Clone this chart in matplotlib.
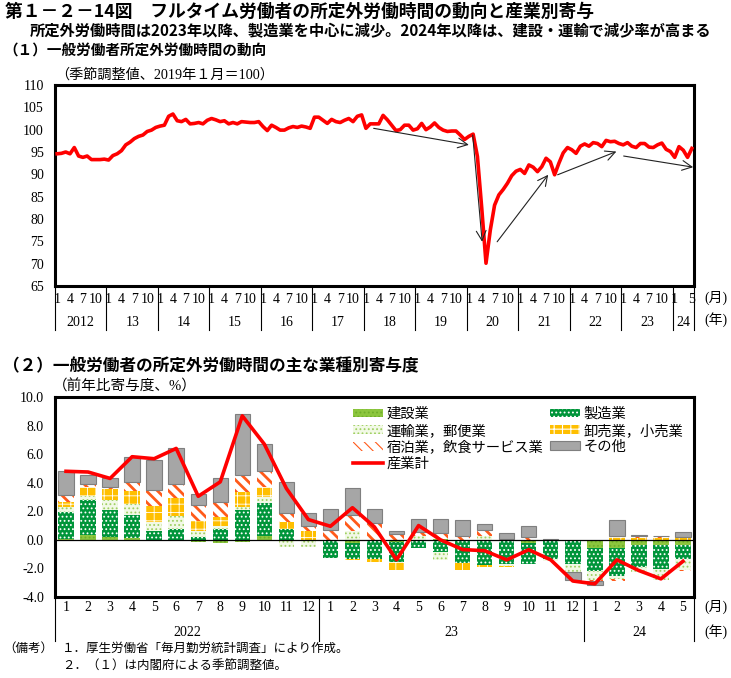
import matplotlib
matplotlib.use("Agg")
import matplotlib.pyplot as plt

plt.rcParams["font.family"] = ["Liberation Serif", "Noto Sans CJK JP"]
plt.rcParams["axes.unicode_minus"] = False
plt.rcParams["hatch.linewidth"] = 0.8

GOTHIC = ["Noto Sans CJK JP", "DejaVu Sans"]

# (1) general workers, non-scheduled hours index (seasonally adjusted, 2019/1 = 100)
idx_2012 = [94.6, 94.7, 95.0, 94.6, 96.0, 94.1, 93.8, 94.1, 93.3, 93.3, 93.3, 93.4]
idx_2013 = [93.2, 94.2, 94.6, 95.3, 96.6, 97.2, 98.0, 98.5, 98.8, 99.6, 99.9, 100.5]
idx_2014 = [100.8, 101.0, 103.0, 103.5, 102.0, 101.8, 102.3, 101.3, 101.4, 101.6, 101.3, 102.1]
idx_2015 = [102.5, 102.2, 101.8, 102.0, 101.3, 101.6, 101.3, 101.8, 101.7, 101.6, 101.6, 101.8]
idx_2016 = [100.7, 99.8, 101.0, 100.5, 99.9, 99.9, 100.4, 100.7, 100.5, 100.8, 100.6, 100.3]
idx_2017 = [102.8, 102.8, 102.1, 101.4, 102.3, 101.8, 101.6, 102.1, 102.5, 101.8, 103.0, 103.3]
idx_2018 = [100.3, 101.3, 101.3, 101.3, 103.2, 102.2, 101.0, 99.8, 100.0, 101.0, 101.0, 99.9]
idx_2019 = [100.2, 101.4, 100.0, 100.6, 101.5, 100.5, 99.9, 99.6, 99.7, 99.7, 98.8, 97.8]
idx_2020 = [98.5, 99.0, 94.0, 82.5, 70.1, 77.5, 83.1, 85.4, 86.6, 88.0, 89.7, 90.7]
idx_2021 = [91.1, 90.2, 92.1, 91.6, 90.6, 91.7, 93.6, 92.8, 89.9, 92.5, 94.8, 96.0]
idx_2022 = [95.5, 94.7, 96.3, 96.8, 96.3, 97.1, 96.9, 96.2, 97.6, 97.3, 97.4, 96.9]
idx_2023 = [96.6, 97.1, 96.3, 96.0, 96.9, 96.9, 96.1, 96.0, 96.6, 97.0, 95.6, 95.1]
idx_2024 = [93.8, 96.2, 95.4, 93.8, 95.8]
overtime_index = (idx_2012 + idx_2013 + idx_2014 + idx_2015 + idx_2016 + idx_2017 + idx_2018
                  + idx_2019 + idx_2020 + idx_2021 + idx_2022 + idx_2023 + idx_2024)

top_years = ["2012", "13", "14", "15", "16", "17", "18", "19", "20", "21", "22", "23", "24"]
top_month_ticks = [1, 4, 7, 10]
last_year_ticks = [1, 5]

# trend arrows: (start month index, start value, end month index, end value)
trend_arrows = [
    (73.8, 100.3, 96.0, 96.6),
    (96.9, 98.8, 99.1, 74.9),
    (102.6, 74.9, 114.5, 89.9),
    (116.7, 89.9, 130.4, 95.1),
    (132.1, 94.1, 148.3, 91.6),
]

# (2) contributions by industry, 2022/1 - 2024/5 (% points)
bottom_years = ["2022", "23", "24"]
bottom_months = list(range(1, 13)) + list(range(1, 13)) + list(range(1, 6))
construction = [0.05, 0.35, 0.19, 0.10, -0.05, 0.02, -0.16, -0.25, -0.12, 0.30, 0.0, 0.0,
                -0.05, -0.20, -0.05, -0.15, 0.0, 0.08, -0.05, 0.0, 0.0, -0.20, 0.0, 0.0,
                -0.55, -0.55, -0.38, -0.38, -0.38]
manufacturing = [1.92, 2.46, 1.92, 1.62, 0.61, 0.77, 0.23, 0.77, 2.11, 2.30, 0.75, 0.02,
                 -1.22, -1.17, -1.26, -1.40, -0.55, -0.86, -1.60, -1.75, -1.68, -1.48, -1.33, -1.68,
                 -1.66, -2.00, -1.52, -1.64, -0.94]
transport = [0.30, 0.23, 0.70, 0.82, 0.63, 0.87, 0.42, 0.23, 0.19, 0.40, -0.47, -0.47,
             0.0, 0.59, 0.0, 0.0, 0.25, -0.58, 0.0, 0.29, -0.12, 0.0, -0.14, -0.59,
             -0.63, -0.16, -0.35, -0.82, -0.82]
retail = [0.40, 0.66, 0.73, 0.89, 1.10, 1.24, 0.70, 0.59, 1.05, 0.70, 0.49, 0.59,
          0.0, -0.05, -0.23, -0.55, 0.0, 0.0, -0.47, -0.16, -0.10, 0.0, 0.0, 0.0,
          0.0, 0.24, 0.15, 0.15, 0.20]
hospitality = [0.50, 0.19, 0.14, 0.63, 1.12, 0.98, 1.10, 1.05, 1.22, 1.10, 0.63, 0.37,
               0.70, 1.12, 1.17, 0.43, 0.30, 0.40, 0.25, 0.38, 0.05, 0.20, 0.0, 0.0,
               -0.05, -0.16, 0.10, 0.10, -0.07]
others = [1.64, 0.68, 0.66, 1.76, 2.15, 2.53, 0.77, 1.69, 4.22, 1.94, 2.18, 0.91,
          1.48, 1.94, 1.00, 0.17, 0.94, 1.00, 1.17, 0.47, 0.45, 0.80, 0.07, -0.54,
          -0.28, 1.17, 0.07, 0.05, 0.35]
all_industries = [4.80, 4.75, 4.30, 5.82, 5.68, 6.40, 3.05, 4.06, 8.68, 6.70, 3.60, 1.42,
                  0.95, 2.25, 0.90, -1.40, 1.00, 0.00, -0.68, -0.76, -1.40, -0.69, -1.40, -2.88,
                  -3.08, -1.40, -2.15, -2.73, -1.50]

fig = plt.figure(figsize=(7.31, 6.78), dpi=100)


def fy(py):
    return 1 - py / 678


def fx(px):
    return px / 731


# headings
fig.text(fx(5), fy(12), "第１－２－14図　フルタイム労働者の所定外労働時間の動向と産業別寄与",
         family=GOTHIC, fontsize=12.8, fontweight="bold", va="center")
fig.text(fx(30), fy(31), "所定外労働時間は2023年以降、製造業を中心に減少。2024年以降は、建設・運輸で減少率が高まる",
         family=GOTHIC, fontsize=11, fontweight="bold", va="center")
fig.text(fx(3), fy(51), "（１）一般労働者所定外労働時間の動向",
         family=GOTHIC, fontsize=10.5, fontweight="bold", va="center")
fig.text(fx(55), fy(75), "（季節調整値、2019年１月＝100）", fontsize=10.2, va="center")
fig.text(fx(3), fy(366), "（２）一般労働者の所定外労働時間の主な業種別寄与度",
         family=GOTHIC, fontsize=12, fontweight="bold", va="center")
fig.text(fx(53), fy(386), "（前年比寄与度、%）", fontsize=10.5, va="center")
fig.text(fx(3), fy(649), "（備考）", fontsize=9, va="center")
fig.text(fx(62), fy(649), "１．厚生労働省「毎月勤労統計調査」により作成。", fontsize=9, va="center")
fig.text(fx(62), fy(667), "２．（１）は内閣府による季節調整値。", fontsize=9, va="center")

# ---- (1) line chart
ax1 = fig.add_axes([fx(55), fy(286), 639 / 731, 201 / 678])
n1 = len(overtime_index)
ax1.plot(range(n1), overtime_index, color="#ff0000", lw=2.6, zorder=3)
for x0, y0, x1, y1 in trend_arrows:
    ax1.annotate("", xy=(x1, y1), xytext=(x0, y0),
                 arrowprops=dict(arrowstyle="->,head_length=0.7,head_width=0.35",
                                 color="#222222", lw=0.8, shrinkA=0, shrinkB=0), zorder=4)

tick_pos, tick_lab = [], []
for k, yr in enumerate(top_years):
    months = last_year_ticks if yr == top_years[-1] else top_month_ticks
    for m in months:
        tick_pos.append(12 * k + m - 1)
        tick_lab.append(str(m))
ax1.set_xticks(tick_pos, tick_lab)
ax1.set_yticks(range(65, 111, 5))
ax1.tick_params(axis="x", length=0, pad=5, labelsize=10)
ax1.tick_params(axis="y", length=0, pad=8, labelsize=10)
for s in ax1.spines.values():
    s.set_linewidth(2.2)

xt = ax1.get_xaxis_transform()
seps = [12 * k - 0.5 for k in range(len(top_years))] + [n1 - 0.5]
for xs in seps:
    ax1.plot([xs, xs], [0, -0.22], transform=xt, color="black", lw=0.8, clip_on=False)
for k, yr in enumerate(top_years):
    if yr == top_years[-1]:
        c = 12 * k + (n1 - 12 * k - 1) / 2
    else:
        c = 12 * k + 5.5
    ax1.text(c, -0.18, yr, transform=xt, ha="center", va="center", fontsize=10)
ax1.set_xlim(-0.5, n1 - 0.5)
ax1.set_ylim(65, 110)
fig.text(fx(704), fy(298), "(月)", fontsize=10, va="center")
fig.text(fx(704), fy(320), "(年)", fontsize=10, va="center")

# ---- (2) stacked bars
ax2 = fig.add_axes([fx(55), fy(597), 639 / 731, 200 / 678])
n2 = len(all_industries)
x2 = list(range(n2))
series = [
    ("建設業", construction, dict(facecolor="#8cc63e", hatch="....", edgecolor="#6fae2a"), 0.8),
    ("製造業", manufacturing, dict(facecolor="#00953a", hatch="....", edgecolor="white"), 0.8),
    ("運輸業，郵便業", transport, dict(facecolor="#f2f9e6", hatch="....", edgecolor="#9fd062"), 0.8),
    ("卸売業，小売業", retail, dict(facecolor="#ffbf00", hatch="++", edgecolor="white"), 0.6),
    ("宿泊業，飲食サービス業", hospitality, dict(facecolor="white", hatch="\\\\\\", edgecolor="#ff5a1a"), 2.0),
    ("その他", others, dict(facecolor="#a6a6a6", edgecolor="#7f7f7f"), 0.8),
]
pos_base = [0.0] * n2
neg_base = [0.0] * n2
handles = {}
for name, vals, style, hlw in series:
    bottoms = [pos_base[i] if v >= 0 else neg_base[i] for i, v in enumerate(vals)]
    lw = 0.8 if "hatch" not in style else 0
    with plt.rc_context({"hatch.linewidth": hlw}):
        bars = ax2.bar(x2, vals, width=0.7, bottom=bottoms, linewidth=lw, label=name,
                       zorder=2, **style)
    handles[name] = bars
    for i, v in enumerate(vals):
        if v >= 0:
            pos_base[i] += v
        else:
            neg_base[i] += v
ax2.axhline(0, color="black", lw=0.9, zorder=2.5)
line, = ax2.plot(x2, all_industries, color="#ff0000", lw=2.6, zorder=3, label="産業計")

order = ["建設業", "運輸業，郵便業", "宿泊業，飲食サービス業"]
leg_h = [handles[k] for k in order] + [line] + [handles[k] for k in ["製造業", "卸売業，小売業", "その他"]]
leg_l = order + ["産業計", "製造業", "卸売業，小売業", "その他"]
ax2.legend(leg_h, leg_l, ncol=2, loc="upper left", bbox_to_anchor=(0.448, 1.005),
           frameon=False, fontsize=10.3, handlelength=2.1, handleheight=0.55,
           handletextpad=0.25, columnspacing=0.45, labelspacing=0.2, borderpad=0.3)

ax2.set_xticks(x2, [str(m) for m in bottom_months])
ax2.set_yticks(range(-4, 11, 2), ["%.1f" % v for v in range(-4, 11, 2)])
ax2.tick_params(axis="x", length=0, pad=3, labelsize=10)
ax2.tick_params(axis="y", length=0, pad=8, labelsize=10)
for s in ax2.spines.values():
    s.set_linewidth(2.2)
xt2 = ax2.get_xaxis_transform()
for xs in [-0.5, 11.5, 23.5, n2 - 0.5]:
    ax2.plot([xs, xs], [0, -0.22], transform=xt2, color="black", lw=0.8, clip_on=False)
for yr, c in zip(bottom_years, [5.5, 17.5, 26.0]):
    ax2.text(c, -0.175, yr, transform=xt2, ha="center", va="center", fontsize=10)
ax2.set_xlim(-0.5, n2 - 0.5)
ax2.set_ylim(-4, 10)
fig.text(fx(704), fy(607), "(月)", fontsize=10, va="center")
fig.text(fx(704), fy(632), "(年)", fontsize=10, va="center")

fig.savefig("out.png", dpi=100)
